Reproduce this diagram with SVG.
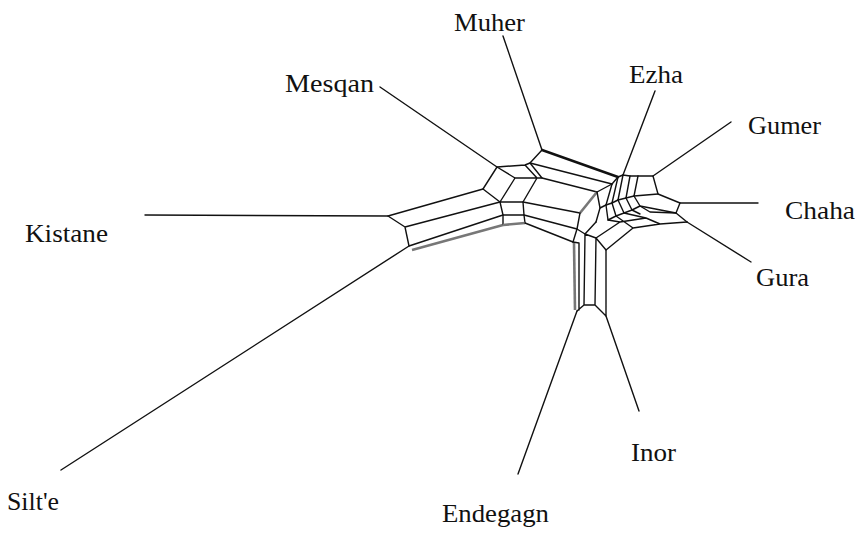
<svg xmlns="http://www.w3.org/2000/svg" width="858" height="533" viewBox="0 0 858 533">
<style>
.l{fill:none;stroke:#111;stroke-width:1.4;stroke-linejoin:round;stroke-linecap:round}
.t{stroke-width:2.4}
.g{fill:none;stroke:#777;stroke-width:2.6}
.lab{font-family:"Liberation Serif","Times New Roman",serif;font-size:26px;fill:#111}
</style>
<rect width="858" height="533" fill="#fff"/>
<g id="connectors">
<!-- leaves -->
<path class="l" d="M145,215 L388,216"/>
<path class="l" d="M61,470 L409,246"/>
<path class="l" d="M380,87 L497,167"/>
<path class="l" d="M503,36 L542,150"/>
<path class="l" d="M655,91 L623,175"/>
<path class="l" d="M731,122 L653,176"/>
<path class="l" d="M758,203 L680,203"/>
<path class="l" d="M751,262 L687,222"/>
<path class="l" d="M639,411 L606,316"/>
<path class="l" d="M518,474 L577,311"/>
<!-- left band -->
<path class="l" d="M388,216 L483,189 M405,227 L500,202 M409,246 L503,215 M388,216 L405,227 L409,246"/>
<path class="g" d="M412,250 L503,225"/>
<!-- mesqan parallelogram -->
<path class="l" d="M497,167 L483,189 L500,202 L515,178 Z M497,167 L525,165 L530,163 L542,150 M515,178 L537,178 L542,178 M525,165 L537,178 M530,163 L542,178 M500,202 L523,202 L537,178 M523,202 L524,215 L525,223 M500,202 L503,215 L503,224 M503,215 L524,215"/>
<path class="g" d="M503,225 L525,223"/>
<!-- top band -->
<path class="l t" d="M542,150 L618,177"/>
<path class="l" d="M530,163 L612,184 M542,178 L597,192"/>
<!-- bottom band -->
<path class="l" d="M523,202 L580,213 M524,215 L577,229 M525,223 L573,242"/>
<path class="g" d="M597,192 L580,213"/>
<path class="l" d="M580,213 L577,229 L573,242"/>
<!-- endegagn/inor column -->
<path class="g" d="M574,243 L575,310"/>
<path class="l" d="M573,242 L579,243 L579,310 M577,229 L585,234 L596,238 L606,250 M585,234 L584,305 M596,238 L595,305 M606,250 L606,316 M577,311 L584,305 L595,305 L606,316"/>
<!-- right cluster -->
<path class="l" d="M597,192 L612,184 L618,177 L623,175 L630,176 L638,176 L653,176 L658,194 L680,203 L676,213 L687,222"/>
<path class="l" d="M612,184 L606,205 M618,177 L612,203 M623,175 L618,200 M630,176 L626,198 M638,176 L634,196"/>
<path class="l" d="M597,192 L600,208 M600,208 L606,205 L612,203 L618,200 L626,198 L634,196 L658,194"/>
<path class="l" d="M634,196 L640,206 L676,213 M626,198 L632,210 L640,206 M618,200 L624,213 L632,210 M612,203 L616,216 L624,213 M606,205 L608,220 L616,216 M600,208 L596,222"/>
<path class="l" d="M596,238 L620,222 M606,250 L633,228 L660,224 L687,222 M620,222 L646,218 L660,224 M608,220 L620,222 M616,216 L633,228 M624,213 L646,218 M632,210 L640,214 M640,206 L650,212 L676,213 M596,222 L585,234"/>
</g>
<g id="n-muher"><text class="lab" x="454" y="31" textLength="71" lengthAdjust="spacingAndGlyphs">Muher</text></g>
<g id="n-mesqan"><text class="lab" x="285" y="92" textLength="89" lengthAdjust="spacingAndGlyphs">Mesqan</text></g>
<g id="n-ezha"><text class="lab" x="629" y="83" textLength="54" lengthAdjust="spacingAndGlyphs">Ezha</text></g>
<g id="n-gumer"><text class="lab" x="748" y="134" textLength="73" lengthAdjust="spacingAndGlyphs">Gumer</text></g>
<g id="n-chaha"><text class="lab" x="785" y="219" textLength="70" lengthAdjust="spacingAndGlyphs">Chaha</text></g>
<g id="n-kistane"><text class="lab" x="25" y="242" textLength="83" lengthAdjust="spacingAndGlyphs">Kistane</text></g>
<g id="n-gura"><text class="lab" x="756" y="286" textLength="53" lengthAdjust="spacingAndGlyphs">Gura</text></g>
<g id="n-inor"><text class="lab" x="631" y="461" textLength="45" lengthAdjust="spacingAndGlyphs">Inor</text></g>
<g id="n-silte"><text class="lab" x="7" y="510" textLength="52" lengthAdjust="spacingAndGlyphs">Silt'e</text></g>
<g id="n-endegagn"><text class="lab" x="442" y="522" textLength="107" lengthAdjust="spacingAndGlyphs">Endegagn</text></g>
</svg>
